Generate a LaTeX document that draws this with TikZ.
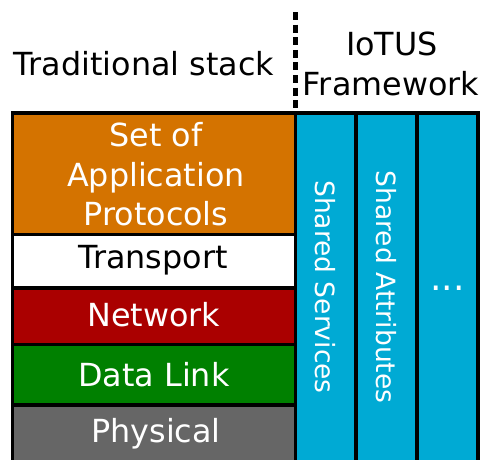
\documentclass[tikz,border=0pt]{standalone}
\usepackage{fontspec}
\setmainfont{DejaVu Sans}
\definecolor{appor}{HTML}{D47300}
\definecolor{netred}{HTML}{AA0000}
\definecolor{dlgreen}{HTML}{008000}
\definecolor{phygray}{HTML}{666666}
\definecolor{iotblue}{HTML}{00AAD4}
\begin{document}
\begin{tikzpicture}[x=1pt,y=-1pt,
  layer/.style={draw=black,line width=3.5pt},
  bigtxt/.style={font=\fontsize{31.8}{39.5}\selectfont,inner sep=0pt,anchor=base,align=center},
  rottxt/.style={font=\fontsize{26.5}{32}\selectfont,inner sep=0pt,rotate=-90,text=white}]
\useasboundingbox (0,0) rectangle (483,459);
% traditional stack layers
\path[layer,fill=appor] (12.5,113) rectangle (295.5,234.5);
\path[layer,fill=white] (12.5,234.5) rectangle (295.5,288);
\path[layer,fill=netred] (12.5,288) rectangle (295.5,344.5);
\path[layer,fill=dlgreen] (12.5,344.5) rectangle (295.5,405);
\path[layer,fill=phygray] (12.5,405) rectangle (295.5,470);
% IoTUS columns
\path[layer,fill=iotblue] (295.5,113) rectangle (356,470);
\path[layer,fill=iotblue] (356,113) rectangle (417,470);
\path[layer,fill=iotblue] (417,113) rectangle (478,470);
% dashed separator
\coordinate (dtop) at (295.5,12);
\coordinate (dbot) at (295.5,113);
\draw[line width=4.5pt,dash pattern=on 8pt off 4.6pt] (dtop) -- (dbot);
% headings
\node[bigtxt] (trad) at (144,75) {Traditional stack};
\node[bigtxt] (iot1) at (392,55) {IoTUS};
\node[bigtxt] (iot2) at (391,95) {Framework};
% layer labels
\node[bigtxt,text=white] (app1) at (156,146.7) {Set of};
\node[bigtxt,text=white] (app2) at (156,186.7) {Application};
\node[bigtxt,text=white] (app3) at (156,225.7) {Protocols};
\node[bigtxt] (tra) at (153,268.3) {Transport};
\node[bigtxt,text=white] (net) at (154,326.7) {Network};
\node[bigtxt,text=white] (dl) at (154,386.7) {Data Link};
\node[bigtxt,text=white] (phy) at (156,442.7) {Physical};
% column labels
\node[rottxt] (ss) at (325,287) {Shared Services};
\node[rottxt] (sa) at (386,287) {Shared Attributes};
\node[font=\fontsize{36}{40}\selectfont,inner sep=0pt,anchor=base,text=white] (dots) at (447.5,290) {...};
\end{tikzpicture}
\end{document}
